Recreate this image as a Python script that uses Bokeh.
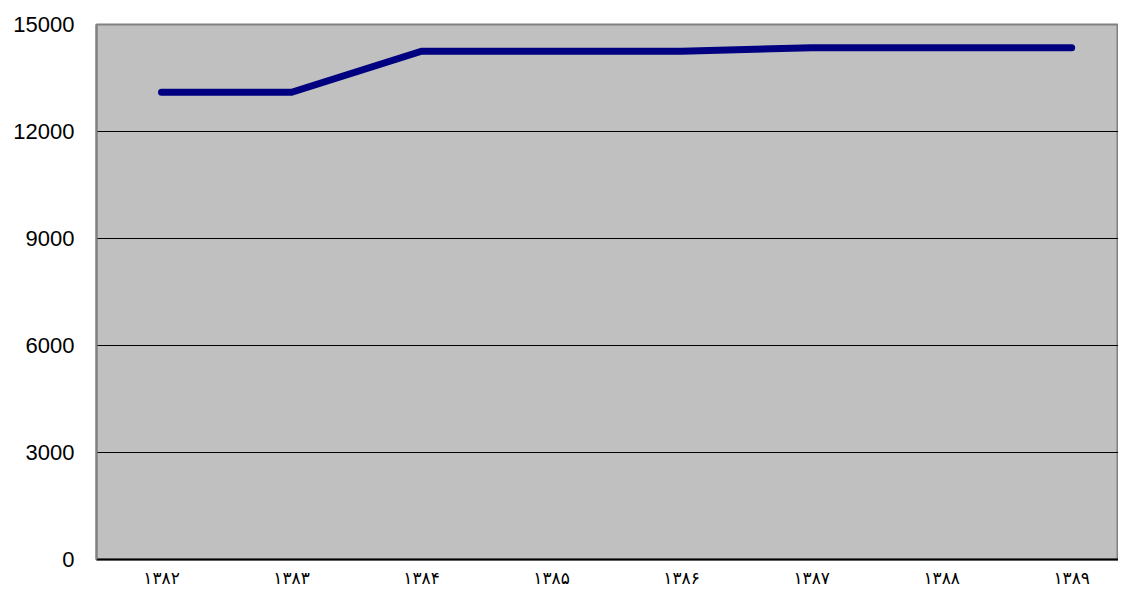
from bokeh.plotting import figure
from bokeh.models import FixedTicker, Range1d
from bokeh.embed import file_html
from bokeh.resources import INLINE

years = ["۱۳۸۲", "۱۳۸۳", "۱۳۸۴", "۱۳۸۵", "۱۳۸۶", "۱۳۸۷", "۱۳۸۸", "۱۳۸۹"]
values = [13100, 13100, 14250, 14250, 14250, 14350, 14350, 14350]
y_ticks = [0, 3000, 6000, 9000, 12000, 15000]

xs = list(range(len(years)))

p = figure(width=1118, height=590, output_backend="svg", toolbar_location=None,
           x_range=Range1d(-0.5, 7.36), y_range=Range1d(0, 15000),
           min_border_left=96, min_border_right=0, min_border_top=24, min_border_bottom=0)

p.background_fill_color = "#C0C0C0"
p.border_fill_color = "white"
p.outline_line_color = "#808080"
p.outline_line_width = 2

p.line(xs, values, line_color="#000080", line_width=7, line_cap="round", line_join="miter")

p.xgrid.grid_line_color = None
p.ygrid.grid_line_color = "black"
p.ygrid.grid_line_width = 1
p.ygrid.ticker = FixedTicker(ticks=y_ticks)

p.yaxis.ticker = FixedTicker(ticks=y_ticks)
p.yaxis.axis_line_color = "#808080"
p.yaxis.axis_line_width = 2
p.yaxis.major_tick_line_color = None
p.yaxis.major_tick_out = 0
p.yaxis.major_tick_in = 0
p.yaxis.minor_tick_line_color = None
p.yaxis.major_label_text_font = "Liberation Sans"
p.yaxis.major_label_text_font_size = "22px"
p.yaxis.major_label_text_color = "black"
p.yaxis.major_label_standoff = 22

p.xaxis.ticker = FixedTicker(ticks=xs)
p.xaxis.major_label_overrides = {i: y for i, y in enumerate(years)}
p.xaxis.axis_line_color = "black"
p.xaxis.axis_line_width = 2
p.xaxis.major_tick_line_color = None
p.xaxis.major_tick_out = 0
p.xaxis.major_tick_in = 0
p.xaxis.minor_tick_line_color = None
p.xaxis.major_label_text_font = "DejaVu Sans"
p.xaxis.major_label_text_font_size = "17px"
p.xaxis.major_label_text_color = "black"
p.xaxis.major_label_standoff = 8

open("out.html", "w").write(file_html(p, INLINE))
